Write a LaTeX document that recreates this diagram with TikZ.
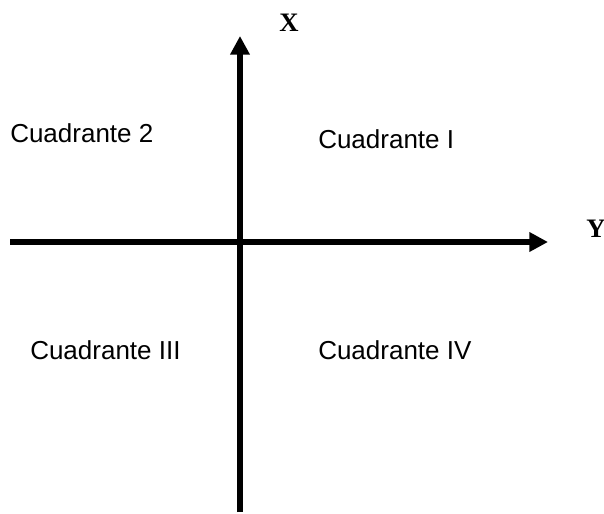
\documentclass[tikz,border=0pt]{standalone}
\usepackage{fontspec}
\setmainfont{Liberation Sans}
\newfontfamily\axfont{Liberation Serif}
\usetikzlibrary{arrows.meta}
\begin{document}
\begin{tikzpicture}[x=0.75pt,y=-0.75pt,
  axis/.style={line width=4.4pt,-{Triangle[length=14pt,width=14pt]}},
  quad/.style={anchor=base west,inner sep=0pt,font=\fontsize{19.5pt}{22pt}\selectfont},
  axlabel/.style={anchor=base,inner sep=0pt,font=\axfont\bfseries\fontsize{20pt}{22pt}\selectfont}]
\useasboundingbox (0,0) rectangle (604,514);
\coordinate (vb) at (240,512);
\coordinate (vt) at (240,36);
\coordinate (hl) at (10,242);
\coordinate (hr) at (548,242);
\draw[axis] (vb) -- (vt);
\draw[axis] (hl) -- (hr);
\node[axlabel] (X) at (289,31.5) {X};
\node[axlabel] (Y) at (596,237.5) {Y};
\node[quad] (q2) at (10,142) {Cuadrante 2};
\node[quad] (q1) at (318,148) {Cuadrante I};
\node[quad] (q3) at (30,359) {Cuadrante III};
\node[quad] (q4) at (318,359) {Cuadrante IV};
\end{tikzpicture}
\end{document}
